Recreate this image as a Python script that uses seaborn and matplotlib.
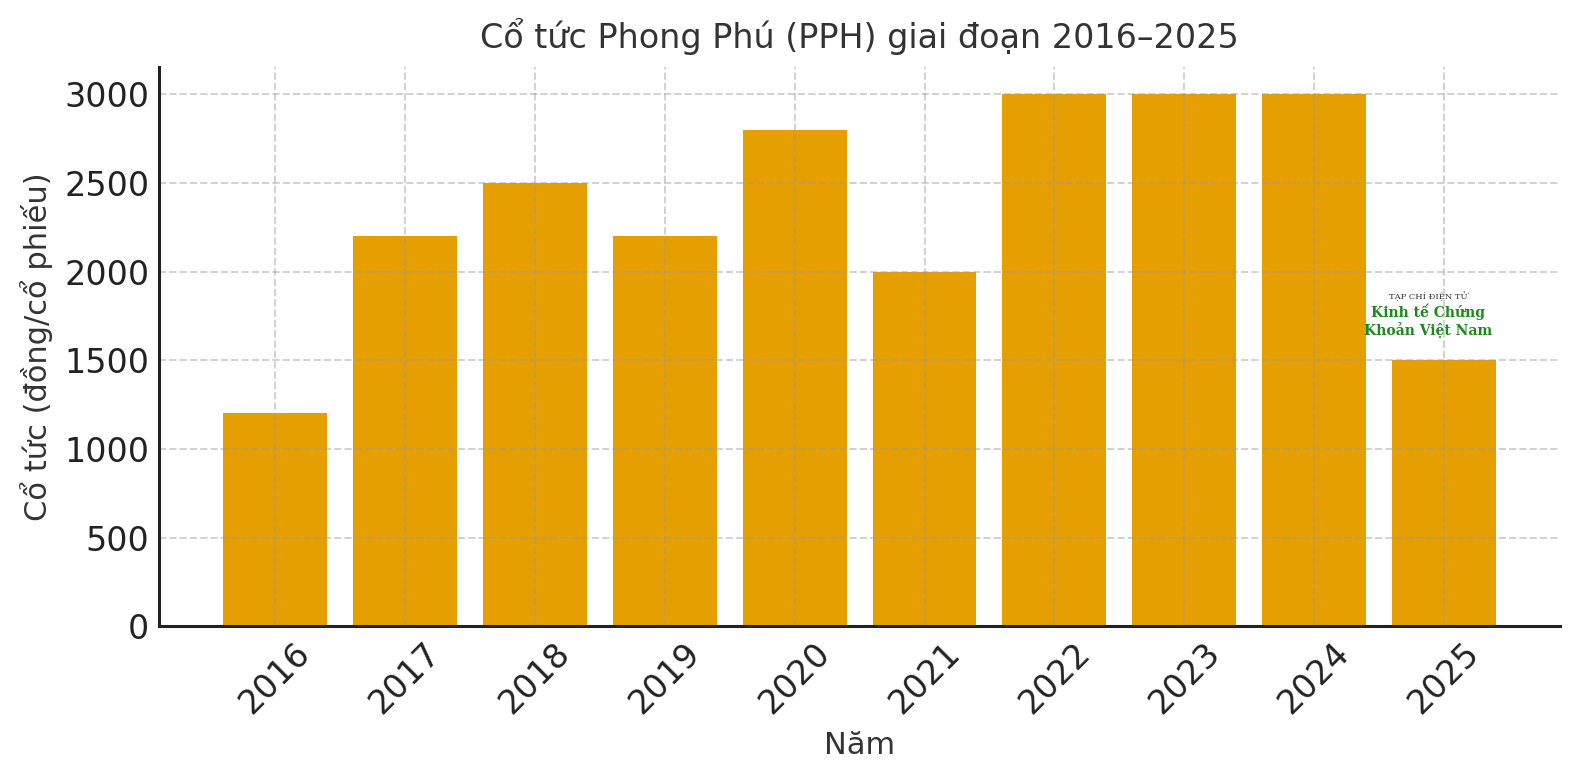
import pandas as pd
import matplotlib
matplotlib.use("Agg")
import matplotlib.pyplot as plt
import seaborn as sns

# Dividend per share by year
years = ["2016", "2017", "2018", "2019", "2020", "2021", "2022", "2023", "2024", "2025"]
dividends = [1200, 2200, 2500, 2200, 2800, 2000, 3000, 3000, 3000, 1500]

df = pd.DataFrame({"year": years, "dividend": dividends})

sns.set_style("white")
plt.rcParams["font.family"] = ["DejaVu Sans"]
plt.rcParams["text.color"] = "#333333"

fig, ax = plt.subplots(figsize=(7.895, 3.9), dpi=200)
sns.barplot(data=df, x="year", y="dividend", color="#E69F00", saturation=1,
            width=0.8, linewidth=0, ax=ax, zorder=2)

ax.set_title("Cổ tức Phong Phú (PPH) giai đoạn 2016–2025", fontsize=12,
             color="#333333", pad=7)
ax.set_xlabel("Năm", fontsize=11, color="#333333")
ax.set_ylabel("Cổ tức (đồng/cổ phiếu)", fontsize=11, color="#333333")
ax.tick_params(axis="both", direction="in", labelsize=12, colors="#222222",
               length=4, width=1)
plt.setp(ax.get_xticklabels(), rotation=45)
ax.grid(True, linestyle="--", color="#999999", alpha=0.45, linewidth=0.7, zorder=3)
ax.set_axisbelow(False)
for s in ["top", "right"]:
    ax.spines[s].set_visible(False)
for s in ["left", "bottom"]:
    ax.spines[s].set_color("#222222")
    ax.spines[s].set_linewidth(1.1)
    ax.spines[s].set_zorder(4)
ax.margins(x=0.05, y=0.05)

# Watermark
ax.text(0.906, 0.585, "TẠP CHÍ ĐIỆN TỬ", transform=ax.transAxes, fontsize=3,
        family="DejaVu Serif", color="#333333", ha="center")
ax.text(0.906, 0.553, "Kinh tế Chứng", transform=ax.transAxes, fontsize=5,
        family="DejaVu Serif", fontweight="bold", color="#1a8a1a", ha="center")
ax.text(0.906, 0.522, "Khoản Việt Nam", transform=ax.transAxes, fontsize=5,
        family="DejaVu Serif", fontweight="bold", color="#1a8a1a", ha="center")

fig.subplots_adjust(left=0.1007, right=0.988, top=0.9135, bottom=0.197)
plt.savefig("out.png", dpi=200)
